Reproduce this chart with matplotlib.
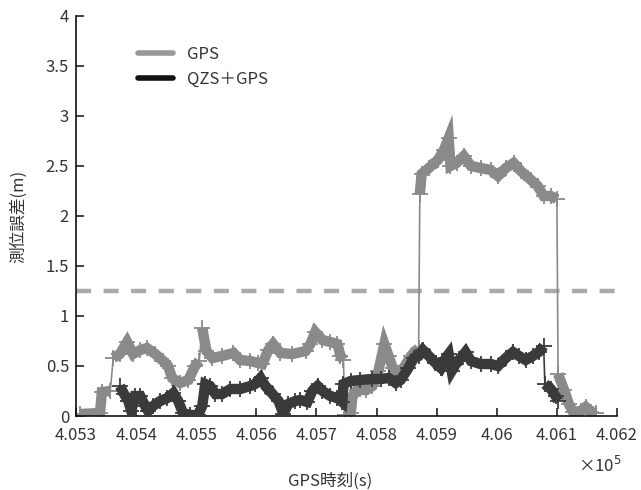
import numpy as np
import matplotlib
matplotlib.use("Agg")
import matplotlib.pyplot as plt
from matplotlib.lines import Line2D
from matplotlib.ticker import FuncFormatter

plt.rcParams['font.family'] = ['Noto Sans CJK JP', 'DejaVu Sans']

# ---- data (GPS time [s], positioning error [m]) ----
gps_t = [405307, 405340, 405343, 405357, 405362, 405373, 405385, 405395, 405407,
         405418, 405432, 405445, 405453, 405460, 405473, 405487, 405498, 405505,
         405510, 405517, 405527, 405543, 405562, 405573, 405590, 405603, 405610,
         405620, 405628, 405640, 405660, 405682, 405690, 405698, 405710, 405723,
         405735, 405740, 405745, 405747, 405757, 405760, 405767, 405783, 405793,
         405803, 405813, 405820, 405827, 405837, 405847, 405857, 405870, 405872,
         405875, 405887, 405902, 405912, 405920, 405923, 405933, 405945, 405957,
         405973, 405990, 406002, 406015, 406028, 406040, 406057, 406068, 406078,
         406090, 406100, 406102, 406112, 406120, 406127, 406140, 406148, 406157,
         406165]
gps_err = [0.02, 0.03, 0.24, 0.25, 0.58, 0.62, 0.74, 0.62, 0.66,
           0.68, 0.62, 0.55, 0.50, 0.38, 0.33, 0.36, 0.50, 0.55,
           0.88, 0.65, 0.58, 0.60, 0.63, 0.56, 0.55, 0.53, 0.52,
           0.66, 0.72, 0.63, 0.62, 0.65, 0.72, 0.84, 0.76, 0.74,
           0.72, 0.60, 0.56, 0.01, 0.03, 0.20, 0.26, 0.26, 0.30,
           0.45, 0.72, 0.60, 0.48, 0.42, 0.50, 0.60, 0.68, 2.22,
           2.42, 2.48, 2.56, 2.66, 2.78, 2.50, 2.53, 2.60, 2.50,
           2.48, 2.46, 2.40, 2.48, 2.53, 2.45, 2.36, 2.30, 2.20,
           2.20, 2.17, 0.42, 0.26, 0.12, 0.04, 0.05, 0.09, 0.04,
           0.03]

qzs_t = [405373, 405380, 405387, 405392, 405398, 405407, 405415, 405420, 405428,
         405440, 405452, 405462, 405470, 405478, 405490, 405503, 405510, 405515,
         405523, 405532, 405543, 405557, 405573, 405590, 405598, 405607, 405615,
         405627, 405637, 405645, 405653, 405665, 405673, 405685, 405693, 405702,
         405710, 405723, 405735, 405743, 405745, 405757, 405773, 405793, 405807,
         405820, 405832, 405840, 405853, 405862, 405870, 405877, 405887, 405898,
         405907, 405915, 405920, 405925, 405932, 405940, 405948, 405957, 405973,
         405990, 406002, 406015, 406027, 406037, 406048, 406060, 406070, 406078,
         406080, 406090, 406098, 406102]
qzs_err = [0.30, 0.22, 0.15, 0.05, 0.20, 0.20, 0.10, 0.05, 0.10,
           0.15, 0.18, 0.23, 0.15, 0.03, 0.01, 0.01, 0.10, 0.32,
           0.30, 0.22, 0.22, 0.27, 0.27, 0.30, 0.32, 0.38, 0.30,
           0.22, 0.15, 0.02, 0.12, 0.15, 0.16, 0.14, 0.25, 0.30,
           0.25, 0.20, 0.18, 0.14, 0.32, 0.35, 0.36, 0.37, 0.37,
           0.38, 0.33, 0.36, 0.48, 0.58, 0.60, 0.66, 0.60, 0.53,
           0.48, 0.58, 0.62, 0.45, 0.52, 0.58, 0.64, 0.55, 0.52,
           0.52, 0.50, 0.58, 0.64, 0.60, 0.56, 0.60, 0.64, 0.70,
           0.32, 0.27, 0.20, 0.15]

threshold = 1.25
series_labels = ['GPS', 'QZS＋GPS']
x_ticks = [405300, 405400, 405500, 405600, 405700, 405800, 405900, 406000, 406100, 406200]
y_ticks = [0, 0.5, 1, 1.5, 2, 2.5, 3, 3.5, 4]

GPS_COL = '#8a8a8a'
QZS_COL = '#3a3a3a'
TXT = '#333333'

fig = plt.figure(figsize=(6.41, 4.90), dpi=100)
ax = fig.add_axes([76/641, 74/490, 541/641, 400/490])


def draw(t, y, col, z):
    t = np.asarray(t, float)
    y = np.asarray(y, float)
    # thin connecting line (shows the jumps)
    ax.plot(t, y, color=col, lw=1.2, zorder=z)
    # thick band, broken at large jumps
    jump = np.abs(np.diff(y)) > 0.3
    tt, yy = [t[0]], [y[0]]
    for i in range(1, len(t)):
        if jump[i - 1]:
            tt.append(np.nan); yy.append(np.nan)
        tt.append(t[i]); yy.append(y[i])
    ax.plot(tt, yy, color=col, lw=7.5, solid_joinstyle='miter',
            solid_capstyle='butt', zorder=z)
    ax.plot(t, y, ls='none', marker='+', ms=11, mew=1.3, color=col, zorder=z)


ax.axhline(threshold, color='#aaaaaa', lw=3.2, dashes=(3.4, 2.8), zorder=1)
draw(gps_t, gps_err, GPS_COL, 2)
draw(qzs_t, qzs_err, QZS_COL, 3)

ax.set_xlim(x_ticks[0], x_ticks[-1])
ax.set_ylim(0, 4)
ax.set_xticks(x_ticks)
ax.set_yticks(y_ticks)
ax.xaxis.set_major_formatter(FuncFormatter(lambda v, p: f"{v/1e5:g}"))
ax.yaxis.set_major_formatter(FuncFormatter(lambda v, p: f"{v:g}"))
for s in ['top', 'right']:
    ax.spines[s].set_visible(False)
for s in ['left', 'bottom']:
    ax.spines[s].set_linewidth(1.2)
    ax.spines[s].set_color('#111111')
ax.tick_params(direction='in', length=6, width=1.1, labelsize=12,
               labelcolor=TXT, color='#111111')
ax.tick_params(axis='x', pad=8)
ax.tick_params(axis='y', pad=5)

ax.set_xlabel('GPS時刻(s)', fontsize=12, color=TXT, va='center')
ax.xaxis.set_label_coords((330 - 76) / 541, (416 - 481) / 400)
ax.set_ylabel('測位誤差(m)', fontsize=12, color=TXT, va='center')
ax.yaxis.set_label_coords((18 - 76) / 541, (416 - 216) / 400)
fig.text(600/641, 1 - 466/490, '×10$^5$', fontsize=12, color=TXT,
         ha='center', va='center')

handles = [Line2D([], [], color='#999999', lw=4, solid_capstyle='round'),
           Line2D([], [], color='#111111', lw=4, solid_capstyle='round')]
ax.legend(handles, series_labels, loc='upper left', bbox_to_anchor=(0.087, 0.963),
          frameon=False, fontsize=12, handlelength=2.1, handletextpad=0.85,
          labelspacing=0.5, labelcolor=TXT)

fig.savefig('out.png', dpi=100)
